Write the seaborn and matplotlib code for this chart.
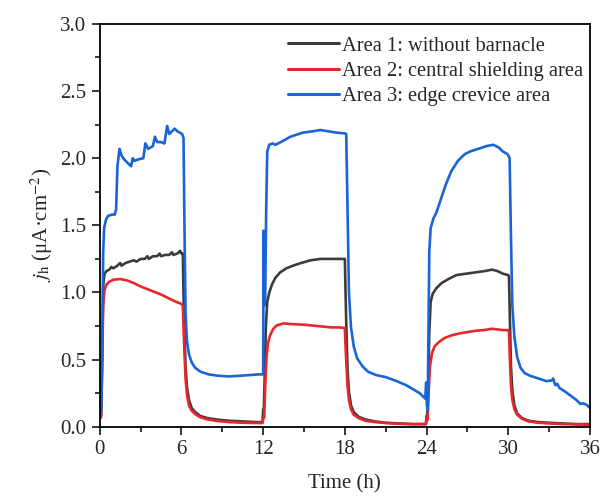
import numpy as np
import pandas as pd
import matplotlib
matplotlib.use("Agg")
import matplotlib.pyplot as plt
from matplotlib.ticker import MultipleLocator
import seaborn as sns

# (time h, j_h uA/cm2)
area1 = [(0, 0.07), (0.1, 0.08), (0.18, 0.6), (0.25, 1.05), (0.35, 1.14), (0.5, 1.16), (0.7, 1.17),
         (0.85, 1.19), (1.0, 1.18), (1.3, 1.2), (1.5, 1.22), (1.6, 1.2), (1.9, 1.22), (2.2, 1.23),
         (2.5, 1.24), (2.7, 1.23), (3.0, 1.25), (3.3, 1.25), (3.5, 1.27), (3.6, 1.25), (3.9, 1.27),
         (4.2, 1.27), (4.4, 1.29), (4.5, 1.27), (4.8, 1.28), (5.1, 1.28), (5.3, 1.3), (5.4, 1.28),
         (5.7, 1.29), (5.9, 1.31), (6.0, 1.29), (6.1, 1.29), (6.15, 1.0), (6.22, 0.72), (6.3, 0.45),
         (6.4, 0.3), (6.55, 0.2), (6.75, 0.14), (7.0, 0.11), (7.4, 0.08), (7.9, 0.065), (8.5, 0.055),
         (9.5, 0.045), (10.5, 0.04), (11.5, 0.035), (11.95, 0.035), (12.0, 0.13), (12.05, 0.14),
         (12.12, 0.4), (12.2, 0.75), (12.3, 0.93), (12.45, 1.0), (12.65, 1.06), (12.9, 1.11),
         (13.25, 1.15), (13.7, 1.18), (14.2, 1.2), (14.8, 1.22), (15.5, 1.24), (16.2, 1.25),
         (17.0, 1.25), (17.6, 1.25), (18.0, 1.25), (18.05, 1.0), (18.12, 0.7), (18.2, 0.42),
         (18.3, 0.26), (18.45, 0.16), (18.65, 0.11), (19.0, 0.075), (19.5, 0.055), (20.2, 0.04),
         (21.0, 0.03), (22.0, 0.025), (23.0, 0.02), (23.95, 0.02), (24.0, 0.08), (24.05, 0.09),
         (24.12, 0.3), (24.2, 0.7), (24.3, 0.93), (24.45, 0.99), (24.7, 1.03), (25.1, 1.07),
         (25.6, 1.1), (26.2, 1.13), (26.9, 1.14), (27.6, 1.15), (28.3, 1.16), (28.8, 1.17),
         (29.2, 1.16), (29.6, 1.14), (30.0, 1.13), (30.05, 1.12), (30.12, 0.8), (30.2, 0.45),
         (30.3, 0.27), (30.45, 0.16), (30.65, 0.1), (31.0, 0.065), (31.5, 0.045), (32.2, 0.035),
         (33.0, 0.03), (34.0, 0.025), (35.0, 0.02), (36.0, 0.02)]

area2 = [(0, 0.06), (0.1, 0.07), (0.18, 0.5), (0.25, 0.9), (0.35, 1.02), (0.5, 1.06), (0.7, 1.08),
         (1.0, 1.095), (1.5, 1.1), (2.0, 1.09), (2.5, 1.07), (3.0, 1.045), (3.5, 1.025), (4.0, 1.005),
         (4.5, 0.985), (5.0, 0.96), (5.5, 0.935), (6.0, 0.915), (6.1, 0.9), (6.15, 0.75), (6.22, 0.55),
         (6.3, 0.36), (6.4, 0.24), (6.55, 0.16), (6.75, 0.12), (7.0, 0.095), (7.4, 0.07), (7.9, 0.055),
         (8.5, 0.045), (9.5, 0.035), (10.5, 0.03), (11.5, 0.028), (11.95, 0.028), (12.0, 0.06),
         (12.08, 0.07), (12.15, 0.3), (12.25, 0.52), (12.35, 0.62), (12.5, 0.68), (12.75, 0.73),
         (13.0, 0.755), (13.5, 0.77), (14.0, 0.765), (15.0, 0.76), (16.0, 0.75), (17.0, 0.74),
         (17.6, 0.74), (18.0, 0.735), (18.05, 0.6), (18.12, 0.45), (18.2, 0.3), (18.3, 0.2),
         (18.45, 0.13), (18.65, 0.09), (19.0, 0.065), (19.5, 0.045), (20.2, 0.035), (21.0, 0.028),
         (22.0, 0.022), (23.0, 0.02), (23.95, 0.02), (24.0, 0.06), (24.08, 0.05), (24.15, 0.25),
         (24.25, 0.45), (24.4, 0.55), (24.6, 0.6), (24.9, 0.63), (25.3, 0.66), (25.8, 0.68),
         (26.4, 0.695), (27.0, 0.705), (27.6, 0.715), (28.2, 0.72), (28.8, 0.73), (29.2, 0.725),
         (29.6, 0.72), (30.0, 0.72), (30.05, 0.71), (30.12, 0.5), (30.2, 0.3), (30.3, 0.2),
         (30.45, 0.13), (30.65, 0.09), (31.0, 0.06), (31.5, 0.04), (32.2, 0.03), (33.0, 0.025),
         (34.0, 0.02), (35.0, 0.018), (36.0, 0.015)]

area3 = [(0, 0.1), (0.12, 0.12), (0.2, 0.6), (0.25, 1.3), (0.32, 1.48), (0.45, 1.54), (0.6, 1.57),
         (0.9, 1.58), (1.1, 1.58), (1.2, 1.62), (1.3, 1.94), (1.45, 2.07), (1.6, 2.02), (1.8, 1.99),
         (2.0, 1.97), (2.2, 1.95), (2.3, 1.94), (2.42, 2.0), (2.55, 1.98), (2.8, 1.99), (3.2, 2.0),
         (3.35, 2.11), (3.55, 2.07), (3.9, 2.09), (4.05, 2.16), (4.22, 2.12), (4.5, 2.12),
         (4.75, 2.11), (4.95, 2.24), (5.1, 2.18), (5.2, 2.19), (5.5, 2.22), (5.7, 2.2), (5.9, 2.19),
         (6.05, 2.18), (6.15, 2.15), (6.22, 1.5), (6.3, 0.85), (6.4, 0.64), (6.55, 0.54),
         (6.75, 0.48), (7.0, 0.44), (7.4, 0.41), (8.0, 0.39), (8.7, 0.38), (9.5, 0.375),
         (10.3, 0.38), (11.0, 0.385), (11.6, 0.39), (12.0, 0.39), (12.03, 1.46), (12.07, 0.9),
         (12.15, 0.95), (12.22, 1.6), (12.3, 2.05), (12.45, 2.1), (12.7, 2.11), (12.9, 2.1),
         (13.3, 2.12), (14.0, 2.16), (14.9, 2.19), (15.6, 2.2), (16.2, 2.21), (16.8, 2.2),
         (17.4, 2.19), (18.0, 2.185), (18.1, 2.18), (18.2, 1.6), (18.3, 1.0), (18.45, 0.74),
         (18.65, 0.6), (18.9, 0.51), (19.3, 0.45), (19.7, 0.41), (20.3, 0.385), (21.0, 0.37),
         (21.8, 0.34), (22.5, 0.31), (23.0, 0.28), (23.5, 0.25), (23.9, 0.21), (23.97, 0.33),
         (24.02, 0.16), (24.08, 0.12), (24.13, 0.6), (24.2, 1.3), (24.3, 1.48), (24.5, 1.55),
         (24.7, 1.59), (25.0, 1.68), (25.4, 1.8), (25.8, 1.9), (26.3, 1.98), (26.8, 2.03),
         (27.2, 2.05), (27.8, 2.07), (28.4, 2.09), (28.9, 2.1), (29.3, 2.08), (29.6, 2.05),
         (29.95, 2.03), (30.1, 2.0), (30.2, 1.4), (30.3, 0.9), (30.45, 0.67), (30.65, 0.52),
         (30.9, 0.44), (31.2, 0.4), (31.6, 0.38), (32.2, 0.36), (32.8, 0.34), (33.2, 0.345),
         (33.3, 0.36), (33.45, 0.31), (33.6, 0.32), (33.75, 0.29), (34.2, 0.26), (34.6, 0.23),
         (35.0, 0.2), (35.3, 0.17), (35.5, 0.175), (35.8, 0.16), (36.0, 0.14)]

labels = ["Area 1: without barnacle", "Area 2: central shielding area", "Area 3: edge crevice area"]
colors = ["#3c3c3c", "#e8262b", "#1a64d6"]

frames = []
for lab, pts in zip(labels, [area1, area2, area3]):
    df = pd.DataFrame(pts, columns=["t", "j"])
    df["area"] = lab
    frames.append(df)
data = pd.concat(frames, ignore_index=True)

sns.set_style("ticks")
plt.rcParams["font.family"] = ["Liberation Serif", "DejaVu Serif"]
plt.rcParams["mathtext.fontset"] = "stix"

fig = plt.figure(figsize=(6.12, 4.98), dpi=100)
ax = fig.add_axes([0.163, 0.143, 0.801, 0.809])

sns.lineplot(data=data, x="t", y="j", hue="area", palette=colors, sort=False,
             estimator=None, linewidth=1.9, ax=ax)

ax.set_xlim(0, 36)
ax.set_ylim(0, 3.0)
ax.xaxis.set_major_locator(MultipleLocator(6))
ax.xaxis.set_minor_locator(MultipleLocator(3))
ax.yaxis.set_major_locator(MultipleLocator(0.5))
ax.yaxis.set_minor_locator(MultipleLocator(0.25))
ax.yaxis.set_major_formatter(matplotlib.ticker.FormatStrFormatter("%.1f"))
ax.tick_params(which="major", length=6, width=1.3, labelsize=15, direction="out")
ax.tick_params(which="minor", length=3.5, width=1.3, direction="out")
for s in ax.spines.values():
    s.set_visible(True)
    s.set_linewidth(1.3)
    s.set_color("black")

ax.set_xlabel("Time (h)", fontsize=15, labelpad=11)
ax.set_ylabel(r"$j_{\mathrm{h}}$ (μA·cm$^{-2}$)", fontsize=15)

leg = ax.legend(loc="upper right", bbox_to_anchor=(1.012, 1.0), frameon=False, fontsize=14.8,
                handlelength=2.5, handletextpad=0.15, labelspacing=0.28, borderaxespad=0.2)
for h in leg.get_lines():
    h.set_linewidth(2.2)

fig.savefig("out.png", dpi=100)
